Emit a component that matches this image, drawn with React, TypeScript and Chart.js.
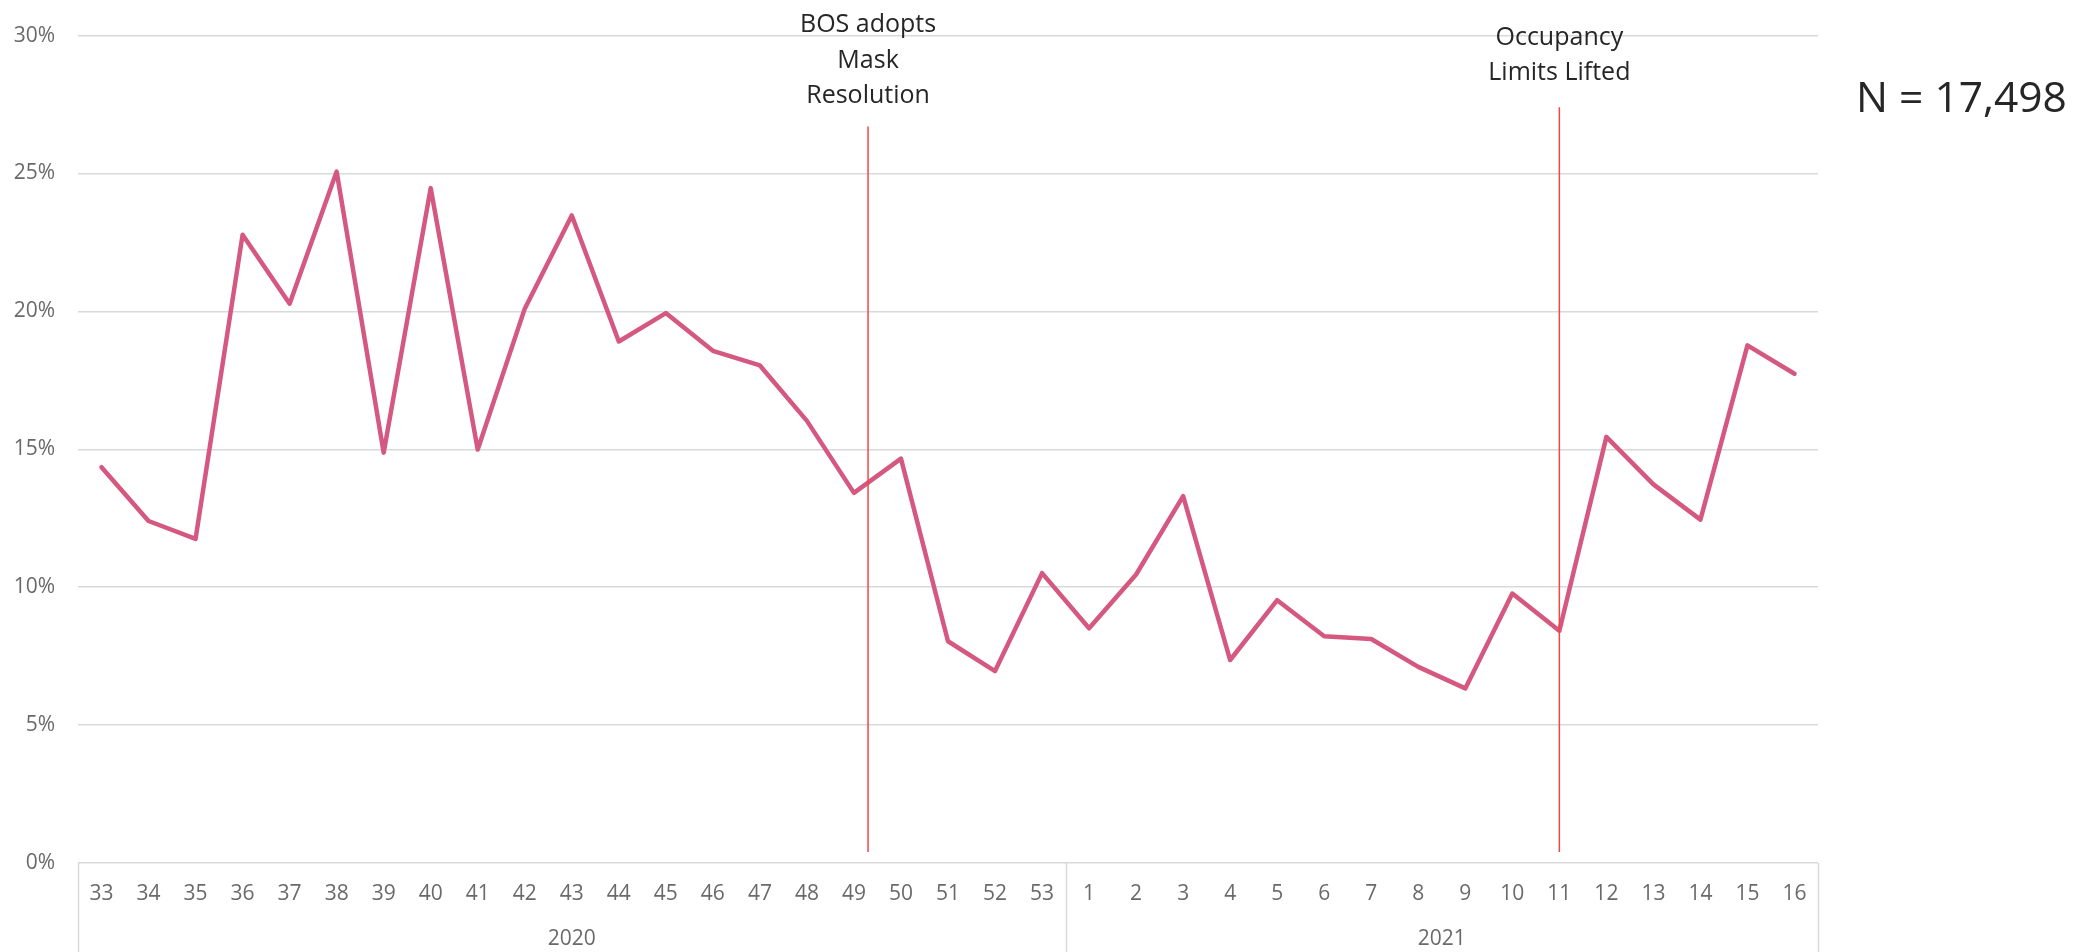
import React, { useEffect, useRef } from 'react';
import { Chart, registerables } from 'chart.js';

Chart.register(...registerables);

// ---- data ----
const weekLabels = [
  '33', '34', '35', '36', '37', '38', '39', '40', '41', '42', '43', '44', '45', '46', '47', '48', '49', '50', '51', '52', '53',
  '1', '2', '3', '4', '5', '6', '7', '8', '9', '10', '11', '12', '13', '14', '15', '16',
];
const rateValues = [
  14.35, 12.4, 11.75, 22.78, 20.28, 25.07, 14.88, 24.47, 14.99, 20.1, 23.48, 18.91, 19.94, 18.57, 18.04, 16.03, 13.42, 14.66, 8.04, 6.96, 10.51,
  8.51, 10.46, 13.3, 7.36, 9.53, 8.22, 8.12, 7.11, 6.33, 9.77, 8.42, 15.45, 13.73, 12.45, 18.77, 17.74,
];
const yearLabels = ['2020', '2021'];
const yearCenters = [10, 28.5];
const yearBounds = [-0.5, 20.5, 36.5];
const yTickValues = [0, 5, 10, 15, 20, 25, 30];

const eventPositions = [16.3, 31];
const eventTexts = [['BOS adopts', 'Mask', 'Resolution'], ['Occupancy', 'Limits Lifted']];
const eventLineTop = [26.7, 27.4];
const eventTextGap = [23.5, 27.3];
const eventLineBottom = 0.4;
const sampleLabel = 'N = 17,498';

const FONT = '"Open Sans", "Noto Sans", sans-serif';
const TICK_COLOR = '#6a6a6a';
const GRID_COLOR = '#d9d9d9';

const overlayPlugin = {
  id: 'overlay',
  afterDraw(chart: any) {
    const ctx = chart.ctx;
    const xs = chart.scales.x;
    const ys = chart.scales.y;
    ctx.save();
    // category group separators
    ctx.strokeStyle = GRID_COLOR;
    ctx.lineWidth = 1.5;
    yearBounds.forEach((b) => {
      const px = Math.round(xs.getPixelForValue(b)) + 0.5;
      ctx.beginPath();
      ctx.moveTo(px, ys.bottom);
      ctx.lineTo(px, chart.height);
      ctx.stroke();
    });
    // event lines and labels
    eventPositions.forEach((p, i) => {
      const px = xs.getPixelForValue(p);
      const top = ys.getPixelForValue(eventLineTop[i]);
      const bottom = ys.getPixelForValue(eventLineBottom);
      ctx.strokeStyle = '#f0474b';
      ctx.lineWidth = 1.5;
      ctx.beginPath();
      ctx.moveTo(px, top);
      ctx.lineTo(px, bottom);
      ctx.stroke();
      const lines = eventTexts[i];
      ctx.fillStyle = '#262626';
      ctx.font = `25px ${FONT}`;
      ctx.textAlign = 'center';
      ctx.textBaseline = 'alphabetic';
      lines.forEach((t, j) => {
        ctx.fillText(t, px, top - eventTextGap[i] - (lines.length - 1 - j) * 35.5);
      });
    });
    // sample size
    ctx.fillStyle = '#262626';
    ctx.font = `42.5px ${FONT}`;
    ctx.textAlign = 'left';
    ctx.textBaseline = 'alphabetic';
    ctx.fillText(sampleLabel, 1856, 112);
    ctx.restore();
  },
};

export default function App() {
  const canvasRef = useRef<HTMLCanvasElement | null>(null);

  useEffect(() => {
    const canvas = canvasRef.current;
    if (!canvas) return;
    const chart = new Chart(canvas, {
      type: 'line',
      data: {
        labels: weekLabels,
        datasets: [
          {
            data: rateValues,
            borderColor: '#d4587f',
            borderWidth: 4.5,
            pointRadius: 0,
            tension: 0,
            fill: false,
            borderCapStyle: 'round',
            borderJoinStyle: 'round',
            xAxisID: 'x',
            yAxisID: 'y',
          },
        ],
      },
      options: {
        responsive: false,
        devicePixelRatio: 1,
        animation: false,
        layout: { padding: { top: 35, right: 274, bottom: 0, left: 0 } },
        plugins: { legend: { display: false }, tooltip: { enabled: false } },
        scales: {
          y: {
            min: 0,
            max: 30,
            afterFit: (s: any) => { s.width = 78; },
            afterBuildTicks: (s: any) => { s.ticks = yTickValues.map((v) => ({ value: v })); },
            grid: { color: GRID_COLOR, lineWidth: 1.5, drawTicks: false },
            border: { display: false },
            ticks: {
              padding: 23,
              color: TICK_COLOR,
              font: { family: FONT, size: 21 },
              callback: (v: any) => `${v}%`,
            },
          },
          x: {
            type: 'category',
            position: 'bottom',
            weight: 0,
            offset: true,
            afterFit: (s: any) => { s.height = 56; },
            grid: { display: false, drawTicks: false },
            border: { display: false },
            ticks: {
              padding: 18,
              autoSkip: false,
              maxRotation: 0,
              color: TICK_COLOR,
              font: { family: FONT, size: 21 },
            },
          },
          x2: {
            type: 'linear',
            position: 'bottom',
            weight: 1,
            min: -0.5,
            max: 36.5,
            afterFit: (s: any) => { s.height = 33; },
            afterBuildTicks: (s: any) => { s.ticks = yearCenters.map((v) => ({ value: v })); },
            grid: { display: false, drawTicks: false },
            border: { display: false },
            ticks: {
              padding: 7,
              autoSkip: false,
              maxRotation: 0,
              color: TICK_COLOR,
              font: { family: FONT, size: 21 },
              callback: (_v: any, i: number) => yearLabels[i],
            },
          },
        },
      },
      plugins: [overlayPlugin],
    } as any);
    return () => chart.destroy();
  }, []);

  return (
    <div style={{ position: 'fixed', left: 0, top: 0, width: 2092, height: 952, background: '#fff' }}>
      <canvas ref={canvasRef} width={2092} height={952} style={{ display: 'block', width: 2092, height: 952 }} />
    </div>
  );
}
